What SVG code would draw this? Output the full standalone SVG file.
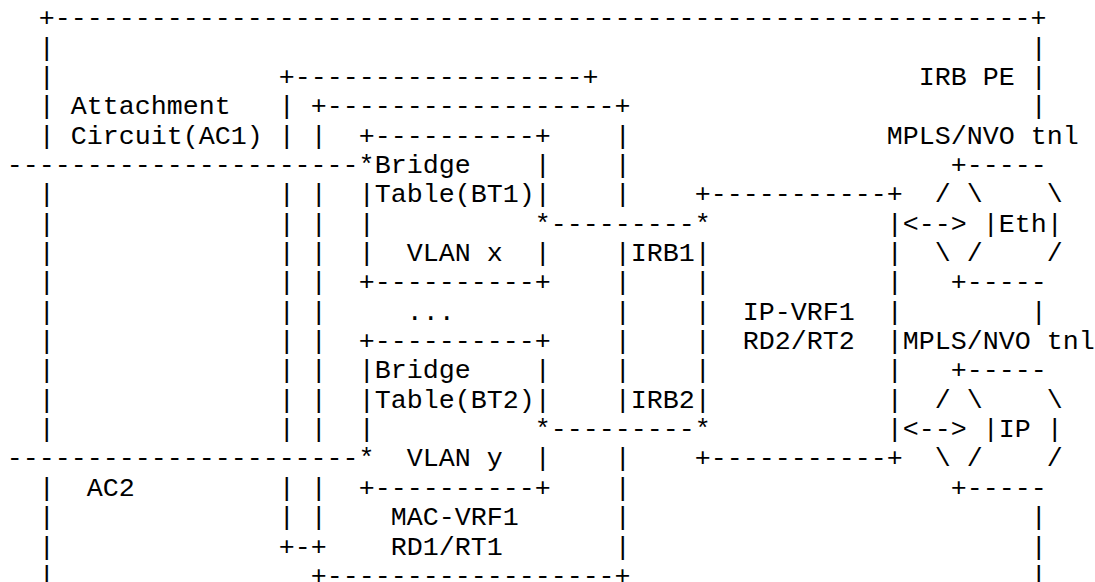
<svg xmlns="http://www.w3.org/2000/svg" width="1095" height="582" viewBox="0 0 1095 582">
  <!-- Monospace character grid: column c starts at x = 16c - 9.3, row r baseline at y = 26.2 + 29.35(r-1) -->
  <style>
    text { font-family: "Courier New", "Liberation Mono", "DejaVu Sans Mono", monospace; font-size: 26.66px; fill: #000; white-space: pre; }
  </style>
  <rect width="1095" height="582" fill="#fff"/>

  <!-- IRB PE outer box -->
  <g id="irb-pe">
    <text>
      <tspan x="38.7" y="26.2">+-------------------------------------------------------------+</tspan>
      <tspan x="38.7" y="55.55">|</tspan><tspan x="1030.7" y="55.55">|</tspan>
      <tspan x="38.7" y="84.9">|</tspan><tspan x="918.7" y="84.9">IRB PE</tspan><tspan x="1030.7" y="84.9">|</tspan>
      <tspan x="38.7" y="114.25">|</tspan><tspan x="1030.7" y="114.25">|</tspan>
      <tspan x="38.7" y="143.6">|</tspan>
      <tspan x="38.7" y="202.3">|</tspan>
      <tspan x="38.7" y="231.65">|</tspan>
      <tspan x="38.7" y="261">|</tspan>
      <tspan x="38.7" y="290.35">|</tspan>
      <tspan x="38.7" y="319.7">|</tspan><tspan x="1030.7" y="319.7">|</tspan>
      <tspan x="38.7" y="349.05">|</tspan>
      <tspan x="38.7" y="378.4">|</tspan>
      <tspan x="38.7" y="407.75">|</tspan>
      <tspan x="38.7" y="437.1">|</tspan>
      <tspan x="38.7" y="495.8">|</tspan>
      <tspan x="38.7" y="525.15">|</tspan><tspan x="1030.7" y="525.15">|</tspan>
      <tspan x="38.7" y="554.5">|</tspan><tspan x="1030.7" y="554.5">|</tspan>
      <tspan x="38.7" y="583.85">|</tspan><tspan x="1030.7" y="583.85">|</tspan>
    </text>
  </g>

  <!-- Attachment circuit labels -->
  <g id="ac-labels">
    <text>
      <tspan x="70.7" y="114.25">Attachment</tspan>
      <tspan x="70.7" y="143.6">Circuit(AC1)</tspan>
      <tspan x="86.7" y="495.8">AC2</tspan>
    </text>
  </g>

  <!-- MAC-VRF1: stacked outer boxes -->
  <g id="mac-vrf1">
    <text>
      <tspan x="278.7" y="84.9">+------------------+</tspan>
      <tspan x="278.7" y="114.25">|</tspan><tspan x="310.7" y="114.25">+------------------+</tspan>
      <tspan x="278.7" y="143.6">|</tspan><tspan x="310.7" y="143.6">|</tspan><tspan x="614.7" y="143.6">|</tspan>
      <tspan x="614.7" y="172.95">|</tspan>
      <tspan x="278.7" y="202.3">|</tspan><tspan x="310.7" y="202.3">|</tspan><tspan x="614.7" y="202.3">|</tspan>
      <tspan x="278.7" y="231.65">|</tspan><tspan x="310.7" y="231.65">|</tspan>
      <tspan x="278.7" y="261">|</tspan><tspan x="310.7" y="261">|</tspan><tspan x="614.7" y="261">|</tspan>
      <tspan x="278.7" y="290.35">|</tspan><tspan x="310.7" y="290.35">|</tspan><tspan x="614.7" y="290.35">|</tspan>
      <tspan x="278.7" y="319.7">|</tspan><tspan x="310.7" y="319.7">|</tspan><tspan x="406.7" y="319.7">...</tspan><tspan x="614.7" y="319.7">|</tspan>
      <tspan x="278.7" y="349.05">|</tspan><tspan x="310.7" y="349.05">|</tspan><tspan x="614.7" y="349.05">|</tspan>
      <tspan x="278.7" y="378.4">|</tspan><tspan x="310.7" y="378.4">|</tspan><tspan x="614.7" y="378.4">|</tspan>
      <tspan x="278.7" y="407.75">|</tspan><tspan x="310.7" y="407.75">|</tspan><tspan x="614.7" y="407.75">|</tspan>
      <tspan x="278.7" y="437.1">|</tspan><tspan x="310.7" y="437.1">|</tspan>
      <tspan x="614.7" y="466.45">|</tspan>
      <tspan x="278.7" y="495.8">|</tspan><tspan x="310.7" y="495.8">|</tspan><tspan x="614.7" y="495.8">|</tspan>
      <tspan x="278.7" y="525.15">|</tspan><tspan x="310.7" y="525.15">|</tspan><tspan x="390.7" y="525.15">MAC-VRF1</tspan><tspan x="614.7" y="525.15">|</tspan>
      <tspan x="278.7" y="554.5">+-+</tspan><tspan x="390.7" y="554.5">RD1/RT1</tspan><tspan x="614.7" y="554.5">|</tspan>
      <tspan x="310.7" y="583.85">+------------------+</tspan>
    </text>
  </g>

  <!-- Bridge Table BT1 / VLAN x -->
  <g id="bt1">
    <text>
      <tspan x="358.7" y="143.6">+----------+</tspan>
      <tspan x="374.7" y="172.95">Bridge</tspan><tspan x="534.7" y="172.95">|</tspan>
      <tspan x="358.7" y="202.3">|Table(BT1)|</tspan>
      <tspan x="358.7" y="231.65">|</tspan>
      <tspan x="358.7" y="261">|</tspan><tspan x="406.7" y="261">VLAN x</tspan><tspan x="534.7" y="261">|</tspan>
      <tspan x="358.7" y="290.35">+----------+</tspan>
    </text>
  </g>

  <!-- Bridge Table BT2 / VLAN y -->
  <g id="bt2">
    <text>
      <tspan x="358.7" y="349.05">+----------+</tspan>
      <tspan x="358.7" y="378.4">|Bridge</tspan><tspan x="534.7" y="378.4">|</tspan>
      <tspan x="358.7" y="407.75">|Table(BT2)|</tspan>
      <tspan x="358.7" y="437.1">|</tspan>
      <tspan x="406.7" y="466.45">VLAN y</tspan><tspan x="534.7" y="466.45">|</tspan>
      <tspan x="358.7" y="495.8">+----------+</tspan>
    </text>
  </g>

  <!-- IRB interfaces -->
  <g id="irb-interfaces">
    <text>
      <tspan x="630.7" y="261">IRB1|</tspan>
      <tspan x="694.7" y="290.35">|</tspan>
      <tspan x="694.7" y="319.7">|</tspan>
      <tspan x="694.7" y="349.05">|</tspan>
      <tspan x="694.7" y="378.4">|</tspan>
      <tspan x="630.7" y="407.75">IRB2|</tspan>
    </text>
  </g>

  <!-- IP-VRF1 -->
  <g id="ip-vrf1">
    <text>
      <tspan x="694.7" y="202.3">+-----------+</tspan>
      <tspan x="886.7" y="231.65">|</tspan>
      <tspan x="886.7" y="261">|</tspan>
      <tspan x="886.7" y="290.35">|</tspan>
      <tspan x="742.7" y="319.7">IP-VRF1</tspan><tspan x="886.7" y="319.7">|</tspan>
      <tspan x="742.7" y="349.05">RD2/RT2</tspan><tspan x="886.7" y="349.05">|</tspan>
      <tspan x="886.7" y="378.4">|</tspan>
      <tspan x="886.7" y="407.75">|</tspan>
      <tspan x="886.7" y="437.1">|</tspan>
      <tspan x="694.7" y="466.45">+-----------+</tspan>
    </text>
  </g>

  <!-- MPLS/NVO tunnel carrying Ethernet -->
  <g id="tnl-eth">
    <text>
      <tspan x="886.7" y="143.6">MPLS/NVO tnl</tspan>
      <tspan x="950.7" y="172.95">+-----</tspan>
      <tspan x="934.7" y="202.3">/ \</tspan><tspan x="1046.7" y="202.3">\</tspan>
      <tspan x="982.7" y="231.65">|Eth|</tspan>
      <tspan x="934.7" y="261">\ /</tspan><tspan x="1046.7" y="261">/</tspan>
      <tspan x="950.7" y="290.35">+-----</tspan>
    </text>
  </g>

  <!-- MPLS/NVO tunnel carrying IP -->
  <g id="tnl-ip">
    <text>
      <tspan x="902.7" y="349.05">MPLS/NVO tnl</tspan>
      <tspan x="950.7" y="378.4">+-----</tspan>
      <tspan x="934.7" y="407.75">/ \</tspan><tspan x="1046.7" y="407.75">\</tspan>
      <tspan x="982.7" y="437.1">|IP |</tspan>
      <tspan x="934.7" y="466.45">\ /</tspan><tspan x="1046.7" y="466.45">/</tspan>
      <tspan x="950.7" y="495.8">+-----</tspan>
    </text>
  </g>

  <!-- Connectors: attachment circuits, IRB links, tunnel arrows -->
  <g id="connectors">
    <text>
      <tspan x="6.7" y="172.95">----------------------*</tspan>
      <tspan x="6.7" y="466.45">----------------------*</tspan>
      <tspan x="534.7" y="231.65">*---------*</tspan>
      <tspan x="534.7" y="437.1">*---------*</tspan>
      <tspan x="902.7" y="231.65">&lt;--&gt;</tspan>
      <tspan x="902.7" y="437.1">&lt;--&gt;</tspan>
    </text>
  </g>
</svg>
